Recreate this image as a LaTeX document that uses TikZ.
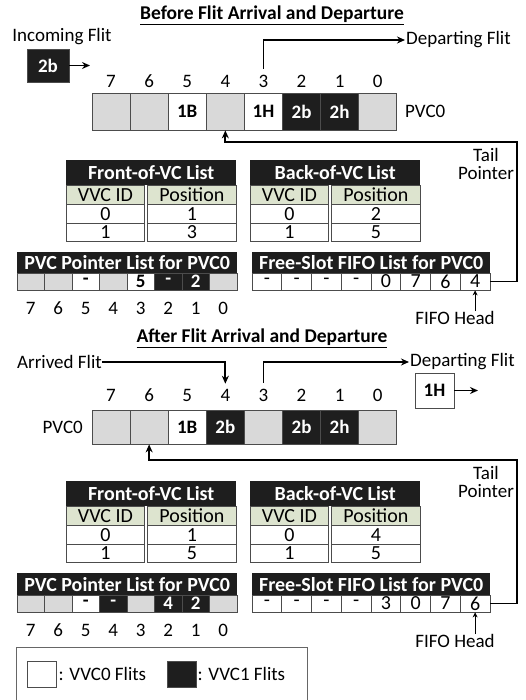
\documentclass[tikz,border=0pt]{standalone}
\usepackage{fontspec}
\setmainfont{Carlito}[Numbers=Lining]
\usetikzlibrary{positioning, arrows.meta}
\definecolor{slotgray}{RGB}{217,217,217}
\definecolor{flitblack}{RGB}{30,30,30}
\definecolor{subgreen}{RGB}{221,228,207}

% one VC list table: name, left, top, title, position of VVC0, position of VVC1
\newcommand{\vclist}[6]{%
  \node[listhead, minimum width=170, minimum height=25] (#1) at (#2,#3) {#4};
  \node[listcell, fill=subgreen, minimum width=78] (#1id) at (#2,#3+25) {VVC ID};
  \node[listcell, fill=subgreen, minimum width=89] (#1pos) at (#2+81,#3+25) {Position};
  \node[listcell, minimum width=78] (#1id0) at (#2,#3+44) {0};
  \node[listcell, minimum width=89] (#1pos0) at (#2+81,#3+44) {#5};
  \node[listcell, minimum width=78, minimum height=18] (#1id1) at (#2,#3+63) {1};
  \node[listcell, minimum width=89, minimum height=18] (#1pos1) at (#2+81,#3+63) {#6};
}

\begin{document}
\begin{tikzpicture}[x=1pt,y=-1pt,>={Stealth[length=8pt,width=7pt]},
    every node/.style={inner sep=0pt, font=\fontsize{19}{18}\selectfont},
    slot/.style={draw=black!70, line width=0.8pt, minimum width=38.1, minimum height=37,
      font=\fontsize{19}{18}\selectfont\bfseries},
    free/.style={slot, fill=slotgray},
    vvc0/.style={slot, fill=white},
    vvc1/.style={slot, fill=flitblack, text=white},
    ptr/.style={->, line width=1.8pt},
    headptr/.style={-{Stealth[length=5pt,width=5pt]}, line width=1pt},
    listhead/.style={fill=flitblack, text=white, anchor=north west,
      font=\fontsize{20}{18}\selectfont\bfseries},
    listcell/.style={draw=black!70, line width=0.8pt, fill=white, anchor=north west,
      minimum height=19, font=\fontsize{20}{18}\selectfont},
    fifocell/.style={listcell, anchor=center, minimum width=29.75, minimum height=17}]
  \useasboundingbox (0,0) rectangle (526,700);

  % before
  \node[font=\fontsize{19.5}{18}\selectfont\bfseries] (title1) at (272,15) {\underline{Before Flit Arrival and Departure}};
  \node (incoming) at (62,37) {Incoming Flit};
  \node[vvc1, minimum width=42, minimum height=33] (inflit) at (48,65.5) {2b};
  \coordinate (inend) at (90,65.5);
  \draw[ptr] (inflit) -- (inend);

  \foreach \s in {0,...,7}
    \node (bn\s) at ({111.05+38.1*(7-\s)},81) {\s};
  \foreach \s/\f/\t in {7/free/,6/free/,5/vvc0/1B,4/free/,3/vvc0/1H,2/vvc1/2b,1/vvc1/2h,0/free/}
    \node[\f] (bs\s) at ({111.05+38.1*(7-\s)},111.5) {\t};
  \node[anchor=west] (bpvc) at (405,111.5) {PVC0};

  \node[anchor=west] (bdepart) at (406,40) {Departing Flit};
  \draw[ptr, shorten <=6pt, shorten >=1pt] (bn3.north) |- (bdepart.west);

  \vclist{bfront}{66}{160}{Front-of-VC List}{1}{3}
  \vclist{bback}{250}{160}{Back-of-VC List}{2}{5}

  \node[listhead, minimum width=220, minimum height=21] (bptr) at (17,252) {PVC Pointer List for PVC0};
  \foreach \s/\f/\t in {7/free/,6/free/,5/vvc0/-,4/free/,3/vvc0/5,2/vvc1/-,1/vvc1/2,0/free/}
    \node[\f, minimum width=27.5, minimum height=17] (bp\s) at ({30.75+27.5*(7-\s)},281.5) {\t};
  \foreach \s in {0,...,7}
    \node (bpn\s) at ({30.75+27.5*(7-\s)},308) {\s};

  \node[listhead, minimum width=238, minimum height=21] (bfifo) at (252,252) {Free-Slot FIFO List for PVC0};
  \foreach \t [count=\i] in {-,-,-,-,0,7,6,4}
    \node[fifocell] (bf\i) at ({252+29.75*(\i-0.5)},281.5) {\t};
  \node (bhead) at (455,318) {FIFO Head};
  \draw[headptr] (bhead.north -| bf8) -- (bf8.south);

  \coordinate (btail) at (517,142);
  \draw[ptr] (bf8.east) -| (btail) -| (bs4.south);
  \node[align=center] (btailtxt) at (486,164) {Tail\\Pointer};

  % after
  \node[font=\fontsize{19.5}{18}\selectfont\bfseries] (title2) at (262,338) {\underline{After Flit Arrival and Departure}};
  \node[anchor=west] (arrived) at (17,362) {Arrived Flit};

  \foreach \s in {0,...,7}
    \node (an\s) at ({111.05+38.1*(7-\s)},395) {\s};
  \foreach \s/\f/\t in {7/free/,6/free/,5/vvc0/1B,4/vvc1/2b,3/free/,2/vvc1/2b,1/vvc1/2h,0/free/}
    \node[\f, minimum height=34] (as\s) at ({111.05+38.1*(7-\s)},427) {\t};
  \node[anchor=east] (apvc) at (83,427) {PVC0};
  \draw[ptr, shorten >=5pt] (arrived.east) -| (an4.north);

  \node[anchor=west] (adepart) at (410,362) {Departing Flit};
  \draw[ptr, shorten <=6pt, shorten >=1pt] (an3.north) |- (adepart.west);
  \node[vvc0, minimum width=39, minimum height=35] (outflit) at (434.5,390.5) {1H};
  \coordinate (outend) at (478,390.5);
  \draw[ptr] (outflit.east) -- (outend);

  \vclist{afront}{66}{481}{Front-of-VC List}{1}{5}
  \vclist{aback}{250}{481}{Back-of-VC List}{4}{5}

  \node[listhead, minimum width=220, minimum height=22] (aptr) at (17,573) {PVC Pointer List for PVC0};
  \foreach \s/\f/\t in {7/free/,6/free/,5/vvc0/-,4/vvc1/-,3/free/,2/vvc1/4,1/vvc1/2,0/free/}
    \node[\f, minimum width=27.5, minimum height=17] (ap\s) at ({30.75+27.5*(7-\s)},603.5) {\t};
  \foreach \s in {0,...,7}
    \node (apn\s) at ({30.75+27.5*(7-\s)},630) {\s};

  \node[listhead, minimum width=238, minimum height=22] (afifo) at (252,573) {Free-Slot FIFO List for PVC0};
  \foreach \t [count=\i] in {-,-,-,-,3,0,7,6}
    \node[fifocell] (af\i) at ({252+29.75*(\i-0.5)},603.5) {\t};
  \node (ahead) at (455,641) {FIFO Head};
  \draw[headptr] (ahead.north -| af8) -- (af8.south);

  \coordinate (atail) at (517,460);
  \draw[ptr] (af8.east) -| (atail) -| (as6.south);
  \node[align=center] (atailtxt) at (486,482) {Tail\\Pointer};

  % legend
  \node[draw=black!60, line width=0.8pt, anchor=north west, minimum width=291, minimum height=58] (legend) at (16,647) {};
  \node[vvc0, minimum width=29, minimum height=26] (key0) at (41.5,674) {};
  \node[right=2pt of key0] (key0txt) {: VVC0 Flits};
  \node[vvc1, minimum width=29, minimum height=26] (key1) at (181.5,674) {};
  \node[right=1pt of key1] (key1txt) {: VVC1 Flits};
\end{tikzpicture}
\end{document}
